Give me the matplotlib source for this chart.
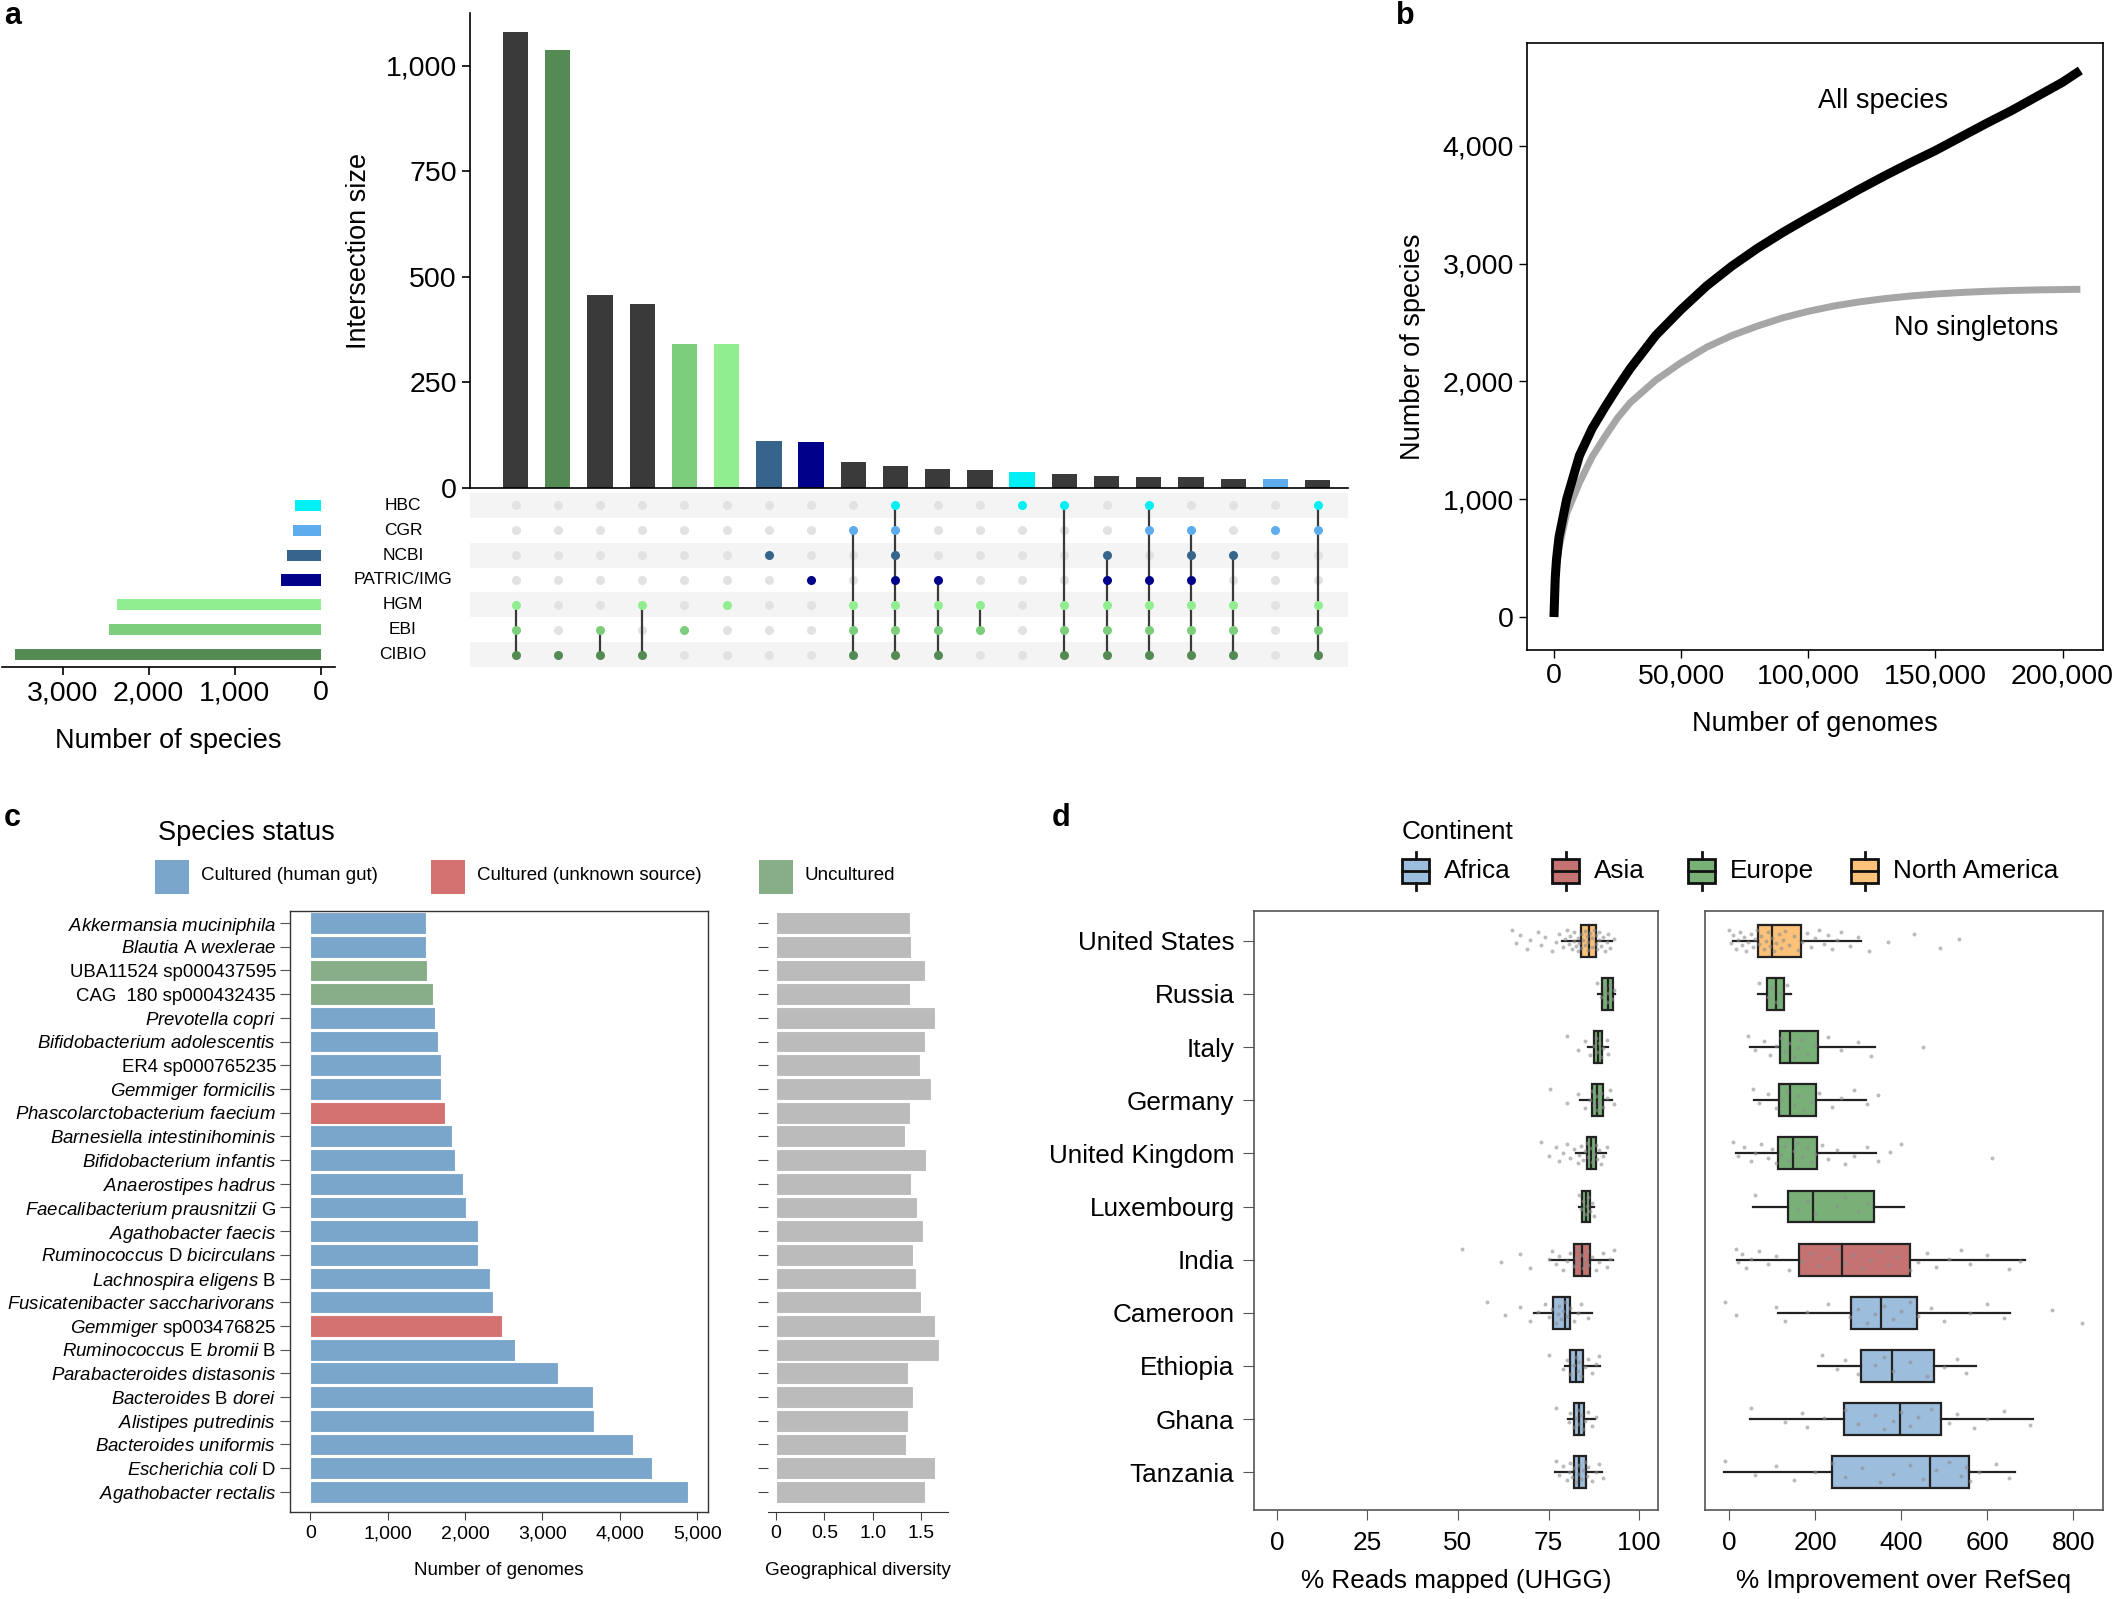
import numpy as np
import matplotlib
matplotlib.use('Agg')
import matplotlib.pyplot as plt
from matplotlib.patches import Rectangle
from matplotlib.lines import Line2D
from matplotlib.ticker import FuncFormatter

plt.rcParams['font.family'] = ['Liberation Sans', 'DejaVu Sans']
plt.rcParams['mathtext.fontset'] = 'custom'
plt.rcParams['mathtext.rm'] = 'Liberation Sans'
plt.rcParams['mathtext.it'] = 'Liberation Sans:italic'
plt.rcParams['mathtext.bf'] = 'Liberation Sans:bold'

# ---------------- data ----------------
# Panel a
set_names = ['HBC', 'CGR', 'NCBI', 'PATRIC/IMG', 'HGM', 'EBI', 'CIBIO']
set_sizes = [300, 326, 392, 465, 2369, 2458, 3551]
intersection_sizes = [1080, 1038, 457, 435, 342, 342, 112, 109, 61, 51,
                      45, 42, 38, 32, 29, 26, 26, 22, 22, 19]
intersection_members = [
    ['HGM', 'EBI', 'CIBIO'],
    ['CIBIO'],
    ['EBI', 'CIBIO'],
    ['HGM', 'CIBIO'],
    ['EBI'],
    ['HGM'],
    ['NCBI'],
    ['PATRIC/IMG'],
    ['CGR', 'HGM', 'EBI', 'CIBIO'],
    ['HBC', 'CGR', 'NCBI', 'PATRIC/IMG', 'HGM', 'EBI', 'CIBIO'],
    ['PATRIC/IMG', 'HGM', 'EBI', 'CIBIO'],
    ['HGM', 'EBI'],
    ['HBC'],
    ['HBC', 'HGM', 'EBI', 'CIBIO'],
    ['NCBI', 'PATRIC/IMG', 'HGM', 'EBI', 'CIBIO'],
    ['HBC', 'CGR', 'PATRIC/IMG', 'HGM', 'EBI', 'CIBIO'],
    ['CGR', 'NCBI', 'PATRIC/IMG', 'HGM', 'EBI', 'CIBIO'],
    ['NCBI', 'HGM', 'EBI', 'CIBIO'],
    ['CGR'],
    ['HBC', 'CGR', 'HGM', 'EBI', 'CIBIO'],
]

# Panel b (thousands of genomes)
genomes_k = [0, 0.5, 1, 2, 5, 10, 15, 20, 25, 30, 40, 50, 60, 70, 80, 90, 100,
             110, 120, 130, 140, 150, 160, 170, 180, 190, 200, 207]
all_species = [0, 330, 490, 680, 1000, 1370, 1600, 1780, 1950, 2110, 2390, 2610,
               2810, 2980, 3130, 3265, 3390, 3510, 3630, 3745, 3855, 3960,
               4075, 4190, 4300, 4420, 4540, 4640]
no_singletons = [0, 300, 430, 590, 880, 1140, 1360, 1530, 1690, 1820, 2010, 2160,
                 2290, 2390, 2470, 2540, 2595, 2640, 2675, 2703, 2725, 2742,
                 2755, 2765, 2772, 2777, 2780, 2782]

# Panel c
species = [
    r'$\mathit{Akkermansia\ muciniphila}$',
    r'$\mathit{Blautia}$ A $\mathit{wexlerae}$',
    'UBA11524 sp000437595',
    'CAG  180 sp000432435',
    r'$\mathit{Prevotella\ copri}$',
    r'$\mathit{Bifidobacterium\ adolescentis}$',
    'ER4 sp000765235',
    r'$\mathit{Gemmiger\ formicilis}$',
    r'$\mathit{Phascolarctobacterium\ faecium}$',
    r'$\mathit{Barnesiella\ intestinihominis}$',
    r'$\mathit{Bifidobacterium\ infantis}$',
    r'$\mathit{Anaerostipes\ hadrus}$',
    r'$\mathit{Faecalibacterium\ prausnitzii}$ G',
    r'$\mathit{Agathobacter\ faecis}$',
    r'$\mathit{Ruminococcus}$ D $\mathit{bicirculans}$',
    r'$\mathit{Lachnospira\ eligens}$ B',
    r'$\mathit{Fusicatenibacter\ saccharivorans}$',
    r'$\mathit{Gemmiger}$ sp003476825',
    r'$\mathit{Ruminococcus}$ E $\mathit{bromii}$ B',
    r'$\mathit{Parabacteroides\ distasonis}$',
    r'$\mathit{Bacteroides}$ B $\mathit{dorei}$',
    r'$\mathit{Alistipes\ putredinis}$',
    r'$\mathit{Bacteroides\ uniformis}$',
    r'$\mathit{Escherichia\ coli}$ D',
    r'$\mathit{Agathobacter\ rectalis}$',
]
species_status = ['gut', 'gut', 'unc', 'unc', 'gut', 'gut', 'gut', 'gut', 'unk',
                  'gut', 'gut', 'gut', 'gut', 'gut', 'gut', 'gut', 'gut', 'unk',
                  'gut', 'gut', 'gut', 'gut', 'gut', 'gut', 'gut']
n_genomes = [1494, 1499, 1505, 1582, 1612, 1647, 1688, 1694, 1747, 1830, 1871,
             1978, 2013, 2172, 2172, 2326, 2367, 2479, 2650, 3205, 3654, 3666,
             4168, 4421, 4876]
geo_diversity = [1.389, 1.396, 1.545, 1.389, 1.642, 1.538, 1.490, 1.608, 1.382,
                 1.340, 1.552, 1.392, 1.458, 1.524, 1.417, 1.444, 1.497, 1.649,
                 1.691, 1.365, 1.413, 1.368, 1.347, 1.649, 1.538]
status_labels = ['Cultured (human gut)', 'Cultured (unknown source)', 'Uncultured']

# Panel d
countries = ['United States', 'Russia', 'Italy', 'Germany', 'United Kingdom',
             'Luxembourg', 'India', 'Cameroon', 'Ethiopia', 'Ghana', 'Tanzania']
continent = ['North America', 'Europe', 'Europe', 'Europe', 'Europe', 'Europe',
             'Asia', 'Africa', 'Africa', 'Africa', 'Africa']
continents = ['Africa', 'Asia', 'Europe', 'North America']

reads_q1 = [84.0, 89.8, 87.6, 86.9, 85.7, 84.3, 81.9, 76.1, 81.0, 82.1, 81.9]
reads_med = [86.1, 91.4, 88.6, 88.4, 86.7, 85.3, 84.1, 79.4, 82.7, 83.5, 83.5]
reads_q3 = [88.1, 92.9, 89.8, 90.0, 88.0, 86.5, 86.5, 80.8, 84.5, 84.7, 85.3]
reads_lo = [78.8, 88.6, 85.9, 83.7, 82.5, 83.5, 75.3, 71.0, 79.6, 80.4, 76.9]
reads_hi = [92.5, 93.3, 91.4, 92.5, 90.8, 87.5, 92.9, 87.1, 89.2, 87.8, 89.8]

imp_q1 = [67, 89, 118, 115, 113, 138, 163, 284, 307, 268, 240]
imp_med = [100, 110, 141, 141, 148, 194, 263, 352, 379, 398, 466]
imp_q3 = [166, 128, 207, 202, 205, 337, 420, 437, 476, 493, 558]
imp_lo = [8, 67, 49, 57, 16, 56, 18, 113, 207, 48, -13]
imp_hi = [307, 143, 338, 319, 342, 407, 687, 652, 573, 706, 665]

reads_points = [
    [65, 66, 67, 69, 70, 72, 73, 74, 76, 77, 78, 79, 79.5, 80, 80.5, 81, 81.5, 82,
     82, 82.5, 83, 83, 83.5, 84, 84, 84.5, 85, 85, 85.5, 86, 86, 86.5, 87, 87,
     87.5, 88, 88, 88.5, 89, 89, 89.5, 90, 90.5, 91, 91.5, 92, 93],
    [88.5, 89.5, 90.5, 91, 91.5, 92, 92.5, 93],
    [80, 83, 85, 86.5, 87.5, 88, 88.5, 89, 89.5, 90, 91, 91.5],
    [75.5, 80, 83, 85, 86.5, 87, 87.5, 88, 88.5, 89, 89.5, 90, 91, 92, 93],
    [73, 75, 77, 78, 79, 80, 81, 82, 83, 83.5, 84, 84.5, 85, 85.5, 86, 86.5, 87,
     87.5, 88, 88.5, 89, 89.5, 90, 91],
    [83.5, 84, 84.5, 85, 85.5, 86, 86.5, 87, 87.5],
    [51, 62, 67, 70, 75, 76, 77, 78, 79, 80, 81, 82, 82.5, 83, 83.5, 84, 84.5, 85,
     85.5, 86, 87, 88, 89, 90, 91, 92, 93],
    [58, 63, 67, 70, 72, 74, 75, 76, 77, 77.5, 78, 78.5, 79, 79.5, 80, 81, 82, 83,
     84, 86],
    [75, 79, 80, 81, 82, 82.5, 83, 83.5, 84, 85, 86, 87, 88, 89],
    [77, 80.5, 81, 82, 82.5, 83, 83.5, 84, 84.5, 85, 86, 87, 88],
    [77, 78, 79, 80, 80.5, 81, 81.5, 82, 82.5, 83, 83.5, 84, 84.5, 85, 85.5, 86,
     87, 88, 89, 90],
]
imp_points = [
    [0, 5, 10, 15, 20, 25, 30, 35, 40, 45, 50, 55, 60, 65, 70, 75, 80, 85, 90, 95,
     100, 105, 110, 115, 120, 125, 130, 140, 150, 160, 170, 180, 190, 200, 210,
     220, 230, 240, 250, 260, 280, 300, 325, 370, 430, 490, 535],
    [70, 90, 100, 110, 120, 135],
    [45, 60, 80, 95, 110, 120, 130, 140, 150, 160, 170, 180, 200, 230, 260, 300,
     330, 450],
    [55, 70, 90, 110, 120, 135, 150, 160, 175, 190, 210, 240, 260, 290, 320, 345],
    [10, 20, 35, 50, 60, 75, 90, 100, 110, 120, 130, 140, 150, 160, 170, 180, 190,
     200, 215, 230, 250, 270, 290, 320, 345, 375, 400, 610],
    [60, 160, 180, 200, 250, 270, 300, 320],
    [15, 20, 30, 40, 50, 70, 90, 110, 140, 170, 190, 210, 230, 250, 270, 290, 310,
     330, 350, 370, 390, 420, 440, 460, 480, 510, 540, 560, 600, 650, 675],
    [-10, 15, 110, 130, 180, 230, 280, 300, 320, 340, 360, 380, 400, 420, 440,
     470, 500, 560, 600, 640, 750, 820],
    [215, 250, 270, 300, 340, 360, 380, 420, 460, 500, 530, 550],
    [50, 130, 170, 180, 220, 270, 300, 340, 360, 380, 400, 420, 440, 470, 510,
     530, 570, 600, 640, 700],
    [-10, 60, 110, 150, 200, 240, 270, 310, 350, 380, 420, 450, 480, 510, 540,
     550, 560, 580, 620, 650],
]

# ---------------- styles ----------------
set_colors = {'HBC': '#00F0F5', 'CGR': '#5CACEE', 'NCBI': '#36648B',
              'PATRIC/IMG': '#00008B', 'HGM': '#90EE90', 'EBI': '#7CCD7C',
              'CIBIO': '#548B54'}
status_colors = {'gut': '#7BA6CB', 'unk': '#D47171', 'unc': '#87AE87'}
cont_colors = {'Africa': '#9DBDDC', 'Asia': '#C47272', 'Europe': '#78B078',
               'North America': '#FDC27A'}
DARK = '#3A3A3A'
FA_TICK, FA_LAB = 20.5, 19.5   # panels a, b
FD = 18.8                      # panel d

W, H = 2114, 1599
fig = plt.figure(figsize=(W / 100, H / 100), dpi=100)
fig.patch.set_facecolor('white')


def rect(x0, y0, x1, y1):
    return [x0 / W, 1 - y1 / H, (x1 - x0) / W, (y1 - y0) / H]


def fx(x):
    return x / W


def fy(y):
    return 1 - y / H


comma = FuncFormatter(lambda v, p: f'{v:,.0f}')

# ================= Panel a =================
ncol = len(intersection_sizes)
cols = np.arange(ncol)
XL = (-1.08, 19.72)

axI = fig.add_axes(rect(470, 13, 1348, 488))
bar_cols = [set_colors[m[0]] if len(m) == 1 else DARK for m in intersection_members]
axI.bar(cols, intersection_sizes, width=0.6, color=bar_cols)
axI.set_xlim(*XL)
axI.set_ylim(0, 1125)
axI.set_yticks([0, 250, 500, 750, 1000])
axI.yaxis.set_major_formatter(comma)
axI.set_xticks([])
for s in ['top', 'right']:
    axI.spines[s].set_visible(False)
axI.spines['left'].set_linewidth(1.2)
axI.spines['bottom'].set_linewidth(1.2)
axI.tick_params(axis='y', labelsize=FA_TICK, length=6, width=1.2)
axI.set_ylabel('Intersection size', fontsize=FA_LAB, labelpad=10)

axM = fig.add_axes(rect(470, 493, 1348, 667))
nrow = len(set_names)
axM.set_xlim(*XL)
axM.set_ylim(nrow - 0.5, -0.5)
for i in range(nrow):
    if i % 2 == 0:
        axM.axhspan(i - 0.5, i + 0.5, color='#F4F4F4', zorder=0, lw=0)
for j, members in enumerate(intersection_members):
    rows = [set_names.index(m) for m in members]
    if len(rows) > 1:
        axM.plot([j, j], [min(rows), max(rows)], color=DARK, lw=1.6, zorder=2)
    for i, nm in enumerate(set_names):
        if nm in members:
            axM.plot(j, i, 'o', ms=6.5, color=set_colors[nm], mec='none', zorder=3)
        else:
            axM.plot(j, i, 'o', ms=6.5, color='#E2E2E2', mec='none', zorder=1)
axM.axis('off')

axS = fig.add_axes(rect(2, 493, 335, 667))
axS.barh(np.arange(nrow), set_sizes, height=0.45,
         color=[set_colors[n] for n in set_names])
axS.set_xlim(3706, -166)
axS.set_ylim(nrow - 0.5, -0.5)
axS.set_yticks([])
axS.set_xticks([3000, 2000, 1000, 0])
axS.xaxis.set_major_formatter(comma)
for s in ['top', 'right', 'left']:
    axS.spines[s].set_visible(False)
axS.spines['bottom'].set_linewidth(1.2)
axS.tick_params(axis='x', labelsize=FA_TICK, length=6, width=1.2)
axS.set_xlabel('Number of species', fontsize=FA_LAB, labelpad=16)
for i, nm in enumerate(set_names):
    fig.text(fx(403), fy(505.4 + i * 24.86), nm, ha='center', va='center',
             fontsize=12.5)

# ================= Panel b =================
axB = fig.add_axes(rect(1527, 43, 2103, 650))
gk = np.array(genomes_k) * 1000
axB.plot(gk, no_singletons, color='#A6A6A6', lw=5, solid_capstyle='butt')
axB.plot(gk, all_species, color='black', lw=6.5, solid_capstyle='butt')
axB.set_xlim(-10600, 215900)
axB.set_ylim(-280, 4873)
axB.set_xticks([0, 50000, 100000, 150000, 200000])
axB.set_yticks([0, 1000, 2000, 3000, 4000])
axB.xaxis.set_major_formatter(comma)
axB.yaxis.set_major_formatter(comma)
axB.tick_params(labelsize=FA_TICK, length=6, width=1.0)
for s in axB.spines.values():
    s.set_linewidth(1.2)
axB.set_xlabel('Number of genomes', fontsize=FA_LAB, labelpad=16)
axB.set_ylabel('Number of species', fontsize=FA_LAB, labelpad=12)
axB.text(129400, 4380, 'All species', fontsize=FA_LAB, ha='center', va='center')
axB.text(166000, 2453, 'No singletons', fontsize=FA_LAB, ha='center', va='center')

# ================= Panel c =================
ns = len(species)
yy = np.arange(ns)
axC = fig.add_axes(rect(290, 911, 708, 1512))
axC.barh(yy, n_genomes, height=0.92,
         color=[status_colors[s] for s in species_status],
         edgecolor='white', linewidth=0.8)
axC.set_xlim(-261, 5139)
axC.set_ylim(ns - 0.15, -0.51)
axC.set_yticks(yy)
axC.set_yticklabels(species, fontsize=13.4)
axC.set_xticks([0, 1000, 2000, 3000, 4000, 5000])
axC.xaxis.set_major_formatter(comma)
axC.tick_params(axis='x', labelsize=14, length=6, color='#444444')
axC.tick_params(axis='y', length=7, color='#555555', pad=3)
for s in axC.spines.values():
    s.set_linewidth(1.0)
    s.set_color('#333333')
axC.set_xlabel('Number of genomes', fontsize=13.5, labelpad=14)

axG = fig.add_axes(rect(768, 911, 948, 1512))
axG.barh(yy, geo_diversity, height=0.92, color='#BBBBBB',
         edgecolor='white', linewidth=0.8)
axG.set_xlim(-0.083, 1.78)
axG.set_ylim(ns - 0.15, -0.51)
axG.set_yticks(yy)
axG.set_yticklabels([])
axG.set_xticks([0, 0.5, 1.0, 1.5])
axG.set_xticklabels(['0', '0.5', '1.0', '1.5'])
for s in ['top', 'right', 'left']:
    axG.spines[s].set_visible(False)
axG.spines['bottom'].set_color('#333333')
axG.tick_params(axis='x', labelsize=14, length=6, color='#444444')
axG.tick_params(axis='y', length=7, color='#444444')
axG.set_xlabel('Geographical diversity', fontsize=13.6, labelpad=14)

# legend panel c
fig.text(fx(158), fy(833), 'Species status', fontsize=19.5, ha='left', va='center')
leg_x = [155, 431, 759]
for lx, key, lab in zip(leg_x, ['gut', 'unk', 'unc'], status_labels):
    fig.add_artist(Rectangle((fx(lx), fy(894)), 34 / W, 34 / H,
                             transform=fig.transFigure, facecolor=status_colors[key],
                             edgecolor='none'))
    fig.text(fx(lx + 46), fy(876), lab, fontsize=13.5, ha='left', va='center')

# ================= Panel d =================
nc = len(countries)
yc = np.arange(nc)


def make_stats(q1, med, q3, lo, hi):
    return [dict(q1=a, med=b, q3=c, whislo=d, whishi=e, fliers=[])
            for a, b, c, d, e in zip(q1, med, q3, lo, hi)]


def draw_box(ax, stats, points):
    bp = ax.bxp(stats, positions=yc, widths=0.6, orientation='horizontal',
                patch_artist=True, showcaps=False, showfliers=False,
                boxprops=dict(linewidth=1.6, edgecolor='#222222'),
                medianprops=dict(color='#222222', linewidth=1.6),
                whiskerprops=dict(color='#222222', linewidth=1.6))
    for patch, c in zip(bp['boxes'], continent):
        patch.set_facecolor(cont_colors[c])
        patch.set_zorder(2)
    for k, pts in enumerate(points):
        n = len(pts)
        offs = ((np.arange(n) * 0.6180339887) % 1.0 - 0.5) * 0.42
        ax.scatter(pts, yc[k] + offs, s=8, color='#8E8E8E', alpha=0.6,
                   linewidths=0, zorder=4)


axD1 = fig.add_axes(rect(1254, 911, 1658, 1510))
draw_box(axD1, make_stats(reads_q1, reads_med, reads_q3, reads_lo, reads_hi),
         reads_points)
axD1.set_xlim(-6.3, 105.2)
axD1.set_ylim(nc - 1 + 0.71, -0.56)
axD1.set_yticks(yc)
axD1.set_yticklabels(countries, fontsize=FD)
axD1.set_xticks([0, 25, 50, 75, 100])
axD1.set_xticklabels(['0', '25', '50', '75', '100'])
axD1.tick_params(axis='x', labelsize=FD, length=7, color='#555555', pad=8)
axD1.tick_params(axis='y', length=8, color='#555555', pad=6)
axD1.set_xlabel('% Reads mapped (UHGG)', fontsize=FD, labelpad=10)

axD2 = fig.add_axes(rect(1705, 911, 2103, 1510))
draw_box(axD2, make_stats(imp_q1, imp_med, imp_q3, imp_lo, imp_hi), imp_points)
axD2.set_xlim(-56, 869)
axD2.set_ylim(nc - 1 + 0.71, -0.56)
axD2.set_yticks([])
axD2.set_xticks([0, 200, 400, 600, 800])
axD2.set_xticklabels(['0', '200', '400', '600', '800'])
axD2.tick_params(axis='x', labelsize=FD, length=7, color='#555555', pad=8)
axD2.set_xlabel('% Improvement over RefSeq', fontsize=FD, labelpad=10)
for ax in (axD1, axD2):
    for s in ax.spines.values():
        s.set_color('#555555')
        s.set_linewidth(1.2)

# legend panel d
fig.text(fx(1402), fy(832), 'Continent', fontsize=FD, ha='left', va='center')
icon_x = [1402, 1552, 1688, 1851]
for ix, c in zip(icon_x, continents):
    fig.add_artist(Rectangle((fx(ix), fy(883)), 27 / W, 24 / H,
                             transform=fig.transFigure, facecolor=cont_colors[c],
                             edgecolor='#111111', linewidth=2))
    fig.add_artist(Line2D([fx(ix), fx(ix + 27)], [fy(871), fy(871)],
                          transform=fig.transFigure, color='#111111', lw=2))
    fig.add_artist(Line2D([fx(ix + 13.5), fx(ix + 13.5)], [fy(852), fy(859)],
                          transform=fig.transFigure, color='#111111', lw=2))
    fig.add_artist(Line2D([fx(ix + 13.5), fx(ix + 13.5)], [fy(883), fy(890)],
                          transform=fig.transFigure, color='#111111', lw=2))
    fig.text(fx(ix + 42), fy(871), c, fontsize=FD, ha='left', va='center')

# panel letters
for (lx, ly, t) in [(4, 16, 'a'), (1396, 16, 'b'), (4, 818, 'c'), (1052, 818, 'd')]:
    fig.text(fx(lx), fy(ly), t, fontsize=22, fontweight='bold', ha='left',
             va='center')

fig.savefig('out.png', dpi=100, facecolor='white')
